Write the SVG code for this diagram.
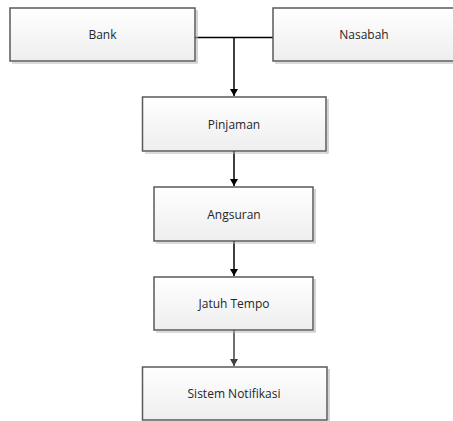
<svg xmlns="http://www.w3.org/2000/svg" width="453" height="421" viewBox="0 0 453 421">
<style>
.box{fill:url(#g);stroke:#5a5a5a;stroke-width:1.5}
.sh{fill:none;stroke:#b8b8b8;stroke-width:1.2}
.t{font-family:"Open Sans","Liberation Sans",sans-serif;font-size:12px;fill:#262626;text-anchor:middle;dominant-baseline:central}
.c{fill:none;stroke:#000;stroke-width:1.5}
</style>
<defs>
<linearGradient id="g" x1="0" y1="0" x2="0" y2="1">
<stop offset="0" stop-color="#ffffff"/>
<stop offset="1" stop-color="#eeeeee"/>
</linearGradient>
<marker id="a" markerWidth="8" markerHeight="8" refX="7" refY="4" orient="auto" markerUnits="userSpaceOnUse" viewBox="0 0 8 8">
<path d="M0,0 L7,4 L0,8 Z" fill="#000"/>
</marker>
<marker id="a2" markerWidth="8" markerHeight="8" refX="7" refY="4" orient="auto" markerUnits="userSpaceOnUse" viewBox="0 0 8 8">
<path d="M0,0 L7,4 L0,8 Z" fill="#404040"/>
</marker>
</defs>
<g id="connectors">
<path class="c" d="M195,37.5 H273"/>
<path class="c" d="M234,37.5 V96" marker-end="url(#a)"/>
<path class="c" d="M234,151 V186" marker-end="url(#a)"/>
<path class="c" d="M234,241 V276" marker-end="url(#a)"/>
<path class="c" d="M234,330 V366" style="stroke:#404040" marker-end="url(#a2)"/>
</g>
<g id="bank">
<path class="sh" d="M197,10 V63 H12"/>
<rect class="box" x="10" y="8" width="185" height="53"/>
<text class="t" x="102.5" y="34.5">Bank</text>
</g>
<g id="nasabah">
<path class="sh" d="M275,63 H460"/>
<rect class="box" x="273" y="8" width="185" height="53"/>
<text class="t" x="364" y="34.5">Nasabah</text>
</g>
<g id="pinjaman">
<path class="sh" d="M328,99 V153 H145"/>
<rect class="box" x="142.5" y="97" width="183.5" height="54"/>
<text class="t" x="234" y="124">Pinjaman</text>
</g>
<g id="angsuran">
<path class="sh" d="M315,189 V243 H156"/>
<rect class="box" x="154" y="187" width="159" height="54"/>
<text class="t" x="234" y="214">Angsuran</text>
</g>
<g id="jatuh-tempo">
<path class="sh" d="M315,279 V332 H156"/>
<rect class="box" x="154" y="277" width="159" height="53"/>
<text class="t" x="234" y="303.5">Jatuh Tempo</text>
</g>
<g id="sistem-notifikasi">
<path class="sh" d="M329,369 V423"/>
<rect class="box" x="142.5" y="367" width="184.5" height="53"/>
<text class="t" x="234" y="393.5">Sistem Notifikasi</text>
</g>
</svg>
